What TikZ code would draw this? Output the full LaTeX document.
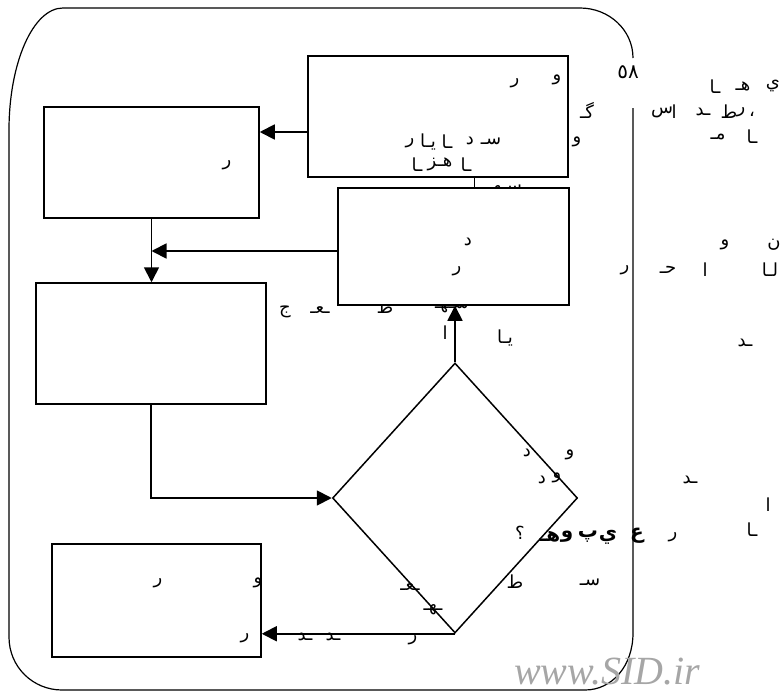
\documentclass[tikz,border=0pt]{standalone}
\usepackage{fontspec}
\setmainfont{Liberation Serif}
\newfontfamily\arfont[Script=Arabic]{DejaVu Sans}
\TeXXeTstate=1
\usetikzlibrary{arrows.meta,shapes.geometric,calc}
\newcommand{\ar}[1]{{\arfont\beginR #1\endR}}

\begin{document}
\begin{tikzpicture}[x=1pt,y=-1pt,
    box/.style={draw,line width=1.5pt,fill=white,inner sep=0pt},
    flow/.style={line width=1.8pt,-{Triangle[length=15pt,width=15pt]}},
    glyph/.style={inner sep=0pt,font=\fontsize{18}{20}\selectfont},
    heavy/.style={inner sep=0pt,font=\fontsize{20}{22}\selectfont\bfseries}]
\useasboundingbox (0,0) rectangle (782,693);

% outer frame
\draw[line width=1.2pt] (633,58) .. controls (633,30) and (609,8) .. (580,8) -- (63,8)
    .. controls (33,8) and (9,63) .. (9,130) -- (9,637)
    .. controls (9,667) and (33,690) .. (62,690) -- (585,690)
    .. controls (612,690) and (633,666) .. (633,633) -- (633,108);

% letters partly under box C
\foreach \x/\y/\t [count=\i] in {505/190/سـهـ, 385/307/ط, 452/307/سـهـ}
  \node[glyph] (h\i) at (\x,\y) {\ar{\t}};

\node[box,minimum width=260pt,minimum height=121pt] (A) at (438,116.5) {};
\node[box,minimum width=215pt,minimum height=111pt] (B) at (151.5,162.5) {};
\node[box,minimum width=231pt,minimum height=117pt] (C) at (453.5,246.5) {};
\node[box,minimum width=230pt,minimum height=121pt] (D) at (151,343.5) {};
\node[box,minimum width=209pt,minimum height=113pt] (E) at (156.5,600.5) {};
\node[draw,diamond,line width=1.5pt,inner sep=0pt,minimum width=245pt,minimum height=270pt] (dia) at (455,498) {};

\foreach \x/\y/\t [count=\i] in {557/80/و, 515/83/ر, 491/141/سـ, 470/141/د, 447/142/ـا,
    428/142/يـا, 410/143/ر, 466/165/ـا, 440/164/هـز, 417/165/ـا, 587/110/گـ, 577/142/و,
    773/86/ي, 743/86/هـ, 715/87/ـا, 662/112/س, 674/112/ا, 703/112/ـد, 729/112/ط, 741/112/ر, 752/114/،,
    718/137/مـ, 752/137/ـا,
    774/245/ن, 725/245/و, 770/270/لـا, 705/270/ا, 668/270/حـ, 625/270/ر, 745/343/ـد,
    690/480/ـد, 768/505/ا, 752/530/ـا, 673/537/ر, 520/533/؟,
    527/453/د, 570/455/و, 542/480/د, 557/478/و, 515/582/ط, 590/582/سـ,
    410/587/ـعـ, 433/610/ـهـ, 305/637/ـد, 333/637/ـد, 413/640/ر,
    158/583/ر, 258/583/و, 245/638/ر, 227/165/ر, 468/242/د, 457/271/ر,
    285/312/ج, 320/310/ـعـ, 445/333/ا, 505/338/يـا}
  \node[glyph] (g\i) at (\x,\y) {\ar{\t}};
\foreach \x/\y/\t [count=\i] in {637/536/ع, 608/537/ي, 588/537/پ, 567/537/و, 550/537/هـ}
  \node[heavy] (k\i) at (\x,\y) {\ar{\t}};
\node[inner sep=0pt,font=\fontsize{20}{22}\selectfont] (pg) at (628,72) {\arfont ٥٨};

\draw[flow] ([yshift=-15.5pt]A.west) -- ([yshift=-15.5pt]A.west -| B.east);
\draw[line width=0.8pt] ([xshift=36pt]A.south) -- ([xshift=36pt]A.south |- C.north);
\draw[flow] (B.south) -- (B.south |- D.north);
\draw[flow] ([yshift=-4.5pt]C.west) -- ([yshift=-4.5pt]C.west -| B.south);
\draw[flow] (D.south) |- (dia.west);
\draw[flow] (dia.north) -- (dia.north |- C.south);
\draw[flow] (dia.south) -- (dia.south -| E.east);

\node[font=\fontsize{40}{40}\selectfont\itshape,text=gray!70,anchor=base,inner sep=0pt] (wm) at (607,684) {www.SID.ir};
\end{tikzpicture}
\end{document}
